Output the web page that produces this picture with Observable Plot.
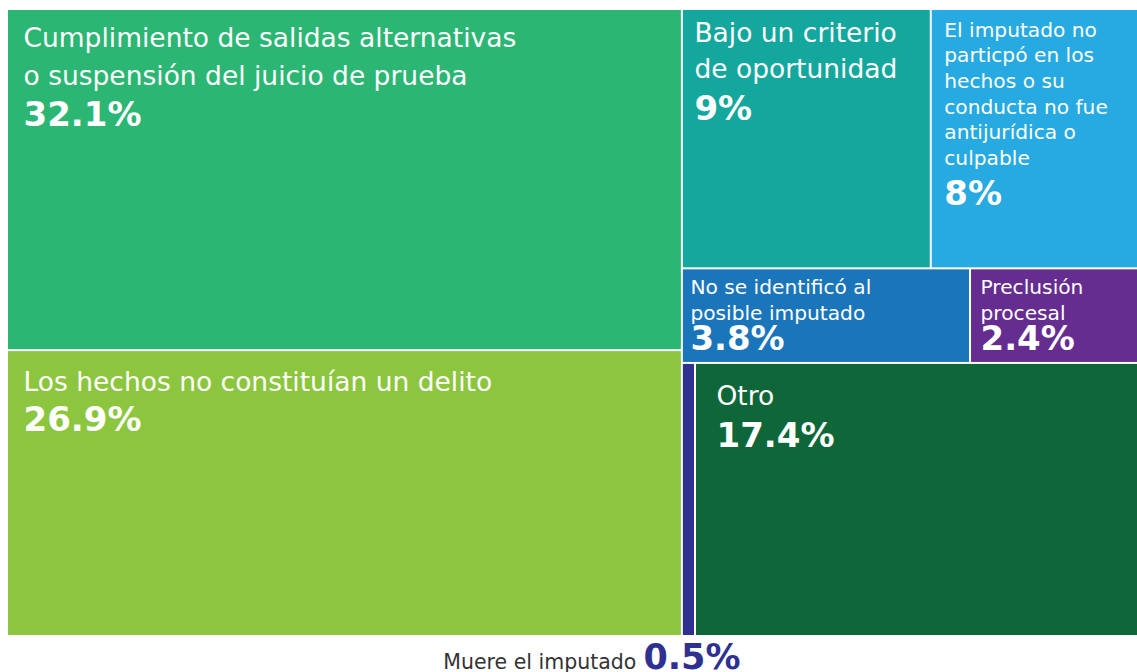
<!DOCTYPE html>
<html>
<head>
<meta charset="utf-8">
<script src="https://cdn.jsdelivr.net/npm/d3@7"></script>
<script src="https://cdn.jsdelivr.net/npm/@observablehq/plot@0.6"></script>
<style>
  html, body { margin: 0; padding: 0; background: #fff; overflow: hidden; }
  #chart svg { display: block; }
</style>
</head>
<body>
<div id="chart"></div>
<script>
// ---- data ----
const categories = [
  "Cumplimiento de salidas alternativas\no suspensión del juicio de prueba",
  "Los hechos no constituían un delito",
  "Bajo un criterio\nde oportunidad",
  "El imputado no\nparticpó en los\nhechos o su\nconducta no fue\nantijurídica o\nculpable",
  "No se identificó al\nposible imputado",
  "Preclusión\nprocesal",
  "Muere el imputado",
  "Otro"
];
const values = [32.1, 26.9, 9, 8, 3.8, 2.4, 0.5, 17.4];
const colors = ["#2bb673", "#8cc63f", "#14a79d", "#27aae1", "#1b75bb", "#652d90", "#2e3191", "#0f6638"];
// layout structure: left column, right column made of three rows (indices into categories)
const structure = [[0, 1], [[2, 3], [4, 5], [6, 7]]];

// ---- label styles (per category) ----
const labelStyle = [
  {px: 15, top: 36, lh: 38, fs: 26.5, gap: 41},
  {px: 15, top: 39, lh: 38, fs: 26.5, gap: 40},
  {px: 11, top: 31, lh: 36, fs: 26.5, gap: 42},
  {px: 12, top: 26, lh: 25.7, fs: 20.2, gap: 40},
  {px: 7,  top: 24.5, lh: 26, fs: 20.2, gap: 30},
  {px: 9,  top: 24.5, lh: 26, fs: 20.2, gap: 30},
  null,
  {px: 20, top: 41, lh: 38, fs: 26.5, gap: 42}
];

// ---- treemap layout ----
function build(node) {
  if (typeof node === "number") return {index: node, value: values[node]};
  return {children: node.map(build)};
}
const root = d3.hierarchy(build(structure)).sum(d => d.value || 0);
d3.treemap().tile(d3.treemapSliceDice).size([1143, 625]).paddingInner(2).round(false)(root);
const leaves = root.leaves().map(l => ({
  i: l.data.index, x0: l.x0, x1: l.x1, y0: l.y0, y1: l.y1,
  name: categories[l.data.index], value: values[l.data.index], color: colors[l.data.index]
})).sort((a, b) => a.i - b.i);

const nameLines = [];
const pctLabels = [];
leaves.forEach(d => {
  const s = labelStyle[d.i];
  if (!s) return;
  const lines = d.name.split("\n");
  lines.forEach((t, k) => nameLines.push({x: d.x0, y: d.y0, dx: s.px, dy: s.top + k * s.lh, fs: s.fs, text: t}));
  pctLabels.push({x: d.x0, y: d.y0, dx: s.px, dy: s.top + (lines.length - 1) * s.lh + s.gap, text: d.value + "%"});
});
const muere = leaves.find(d => d.i === 6);

const font = "DejaVu Sans, Verdana, sans-serif";
const chart = Plot.plot({
  width: 1137,
  height: 672,
  marginLeft: 8,
  marginRight: 0,
  marginTop: 10,
  marginBottom: 37,
  x: {domain: [0, 1129], axis: null},
  y: {domain: [0, 625], reverse: true, axis: null},
  style: {fontFamily: font, background: "#fff"},
  marks: [
    Plot.rect(leaves, {x1: "x0", x2: "x1", y1: "y0", y2: "y1", fill: "color", clip: true}),
    // names: one text per line
    Plot.text(nameLines, {
      x: "x", y: "y", text: "text", fill: "white", fontSize: "fs",
      textAnchor: "start", lineAnchor: "bottom", fontFamily: font
    }),
    Plot.text(pctLabels, {
      x: "x", y: "y", text: "text", fill: "white", fontSize: 34, fontWeight: "bold",
      textAnchor: "start", lineAnchor: "bottom", fontFamily: font
    }),
    Plot.text([muere], {
      x: "x0", y: "y1", text: d => d.name, fill: "#333333", fontSize: 20.5,
      textAnchor: "end", lineAnchor: "bottom", dx: -47, dy: 33, fontFamily: font
    }),
    Plot.text([muere], {
      x: "x0", y: "y1", text: d => d.value + "%", fill: muere.color, fontSize: 35, fontWeight: "bold",
      textAnchor: "start", lineAnchor: "bottom", dx: -40, dy: 33, fontFamily: font
    })
  ]
});
document.getElementById("chart").appendChild(chart);

// apply per-line offsets (dx/dy vary per label) by translating each text element
d3.select(chart).selectAll("g[aria-label=text]").each(function(_, gi) {
  const arr = gi === 0 ? nameLines : gi === 1 ? pctLabels : null;
  if (!arr) return;
  d3.select(this).selectAll("text").each(function(__, k) {
    const d = arr[k];
    const t = this.getAttribute("transform") || "";
    this.setAttribute("transform", t + ` translate(${d.dx},${d.dy})`);
  });
});
</script>
</body>
</html>
